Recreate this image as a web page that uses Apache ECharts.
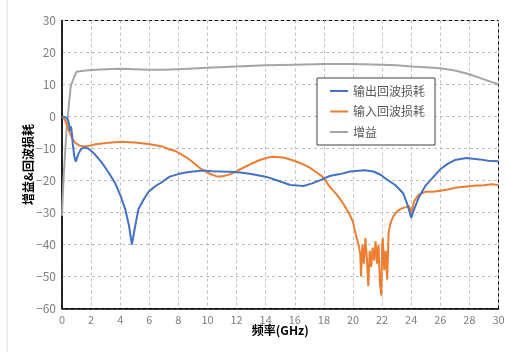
<!DOCTYPE html>
<html>
<head>
<meta charset="utf-8">
<script src="https://cdn.jsdelivr.net/npm/echarts@6/dist/echarts.min.js"></script>
<style>
  html, body { margin: 0; padding: 0; background: #fff; }
  #chart { width: 510px; height: 352px; }
</style>
</head>
<body>
<div id="chart"></div>
<script>
// series names
const names = ['输出回波损耗', '输入回波损耗', '增益']

// 输出回波损耗 (blue)
const outFreq = [0, 0.3, 0.45, 0.55, 0.6, 0.65, 0.75, 0.85, 0.95, 1.1, 1.3, 1.5, 1.8, 2.2, 2.75, 3.2, 3.65, 4.0, 4.35, 4.6, 4.8, 5.0, 5.25, 5.6, 5.95, 6.4, 6.9, 7.4, 8.0, 8.5, 9, 9.7, 10.3, 10.9, 11.5, 12.25, 13, 14, 14.8, 15.7, 16.2, 16.6, 17.2, 17.8, 18.4, 19.1, 19.8, 20.8, 21.4, 21.9, 22.3, 22.9, 23.45, 23.7, 23.9, 24.0, 24.2, 24.5, 25, 25.5, 26, 26.5, 27, 27.8, 28.7, 29.3, 30]
const outVal = [0, -0.3, -1.5, -4.5, -3, -4, -9, -12.5, -14.1, -12, -10.2, -9.7, -10, -11.5, -14.5, -17.5, -20.8, -24.5, -29, -34, -40, -35, -29, -26, -23.5, -21.8, -20.4, -18.8, -18, -17.5, -17.2, -16.9, -17.1, -17.2, -17.3, -17.5, -18, -18.8, -20, -21.4, -21.6, -21.7, -20.9, -19.8, -18.6, -18, -17.2, -16.8, -17.2, -18.2, -19.6, -21.4, -24, -27, -30, -31.7, -29, -25.5, -21.5, -19, -16.5, -14.8, -13.6, -13, -13.4, -13.8, -14]

// 输入回波损耗 (orange)
const inFreq = [0, 0.2, 0.45, 0.7, 0.9, 1.2, 1.5, 1.9, 2.3, 3.2, 4.1, 5, 5.95, 6.9, 7.4, 7.8, 8.5, 9, 9.5, 10.1, 10.7, 11.1, 11.6, 12.1, 12.6, 13.1, 13.6, 14.1, 14.45, 15.2, 15.8, 16.4, 17, 17.4, 17.9, 18.4, 18.9, 19.3, 19.7, 20.0, 20.2, 20.4, 20.5, 20.55, 20.65, 20.75, 20.85, 20.95, 21.05, 21.15, 21.25, 21.35, 21.45, 21.55, 21.65, 21.75, 21.85, 21.95, 22.0, 22.05, 22.15, 22.25, 22.35, 22.45, 22.6, 22.8, 23.0, 23.3, 23.6, 23.85, 24.0, 24.2, 24.5, 25, 25.5, 26, 26.5, 27, 27.5, 28, 28.5, 29, 29.5, 30]
const inVal = [0, -1, -4.2, -6.8, -8.2, -9.1, -9.4, -9.1, -8.7, -8.2, -7.9, -8.1, -8.6, -9.4, -10.3, -10.8, -12.6, -14.3, -16.2, -17.8, -18.8, -18.6, -18, -16.8, -15.7, -14.6, -13.6, -12.9, -12.6, -12.8, -13.6, -14.6, -15.9, -17.2, -18.8, -21.9, -24.5, -27, -30, -33, -37, -40.5, -43, -50, -40, -46, -38, -44, -53, -42, -47, -41, -45, -39, -46, -40, -52, -56, -40, -38, -48, -42, -51, -36, -33, -31, -29.8, -28.8, -28.4, -28, -30.2, -26.5, -24.5, -23.5, -23.5, -23.2, -22.8, -22.3, -22, -21.8, -21.6, -21.5, -21.2, -21.4]

// 增益 (gray)
const gainFreq = [0, 0.1, 0.3, 0.5, 0.55, 0.6, 0.7, 0.85, 1.0, 1.5, 2, 3, 4, 5, 6, 7, 8, 10, 12, 14, 16, 18, 20, 22, 23, 24, 25, 26, 27, 28, 29, 30]
const gainVal = [-31, -20, -5, 5, 7, 9.5, 10, 12.5, 14, 14.3, 14.5, 14.8, 14.9, 14.8, 14.6, 14.6, 14.8, 15.2, 15.6, 16, 16.2, 16.4, 16.4, 16.2, 16, 15.6, 15.4, 15.1, 14.4, 13.2, 11.6, 10]

// axis ranges
const xTicks = { min: 0, max: 30, step: 2 }
const yTicks = { min: -60, max: 30, step: 10 }

const colors = ['#4472C4', '#ED7D31', '#A5A5A5']
const pairs = (xs, ys) => xs.map((x, i) => [x, ys[i]])
const fmt = (v) => (v < 0 ? '\u2212' + Math.abs(v) : String(v))
const font = '"Noto Sans CJK SC", "Noto Sans", sans-serif'

const gridLine = { show: true, lineStyle: { color: '#bfbfbf', type: [3, 3], width: 1 } }

const option = {
  animation: false,
  color: colors,
  textStyle: { fontFamily: font },
  grid: { left: 62, right: 11.5, top: 20.5, bottom: 43.5, show: true, borderColor: '#000', borderWidth: 1 },
  graphic: [
    { type: 'line', shape: { x1: 7, y1: 0, x2: 7, y2: 352 }, style: { stroke: '#d9d9d9', lineWidth: 1 } },
  ],
  legend: {
    orient: 'vertical',
    left: 317,
    top: 78,
    padding: [7, 10, 7, 13],
    itemGap: 8.5,
    itemWidth: 18,
    itemHeight: 2,
    icon: 'rect',
    borderColor: '#404040',
    borderWidth: 1,
    backgroundColor: '#fff',
    textStyle: { color: '#595959', fontSize: 12, fontFamily: font },
    data: names,
  },
  xAxis: {
    type: 'value',
    min: xTicks.min,
    max: xTicks.max,
    interval: xTicks.step,
    name: '频率(GHz)',
    nameLocation: 'middle',
    nameGap: 16,
    nameMoveOverlap: false,
    nameTextStyle: { color: '#000', fontWeight: 'bold', fontSize: 12 },
    axisLine: { onZero: false, lineStyle: { color: '#000', width: 1.5 } },
    axisTick: { show: false },
    axisLabel: { color: '#7f7f7f', fontSize: 11, margin: 6 },
    splitLine: gridLine,
  },
  yAxis: {
    type: 'value',
    min: yTicks.min,
    max: yTicks.max,
    interval: yTicks.step,
    name: '增益&回波损耗',
    nameLocation: 'middle',
    nameGap: 28,
    nameMoveOverlap: false,
    nameTextStyle: { color: '#000', fontWeight: 'bold', fontSize: 12 },
    axisLine: { show: true, onZero: false, lineStyle: { color: '#000', width: 1.5 } },
    axisTick: { show: false },
    axisLabel: { color: '#7f7f7f', fontSize: 12, margin: 6, formatter: fmt },
    splitLine: gridLine,
  },
  series: [
    { name: names[0], type: 'line', showSymbol: false, lineStyle: { width: 2 }, data: pairs(outFreq, outVal), z: 3 },
    { name: names[1], type: 'line', showSymbol: false, lineStyle: { width: 2 }, data: pairs(inFreq, inVal), z: 2 },
    { name: names[2], type: 'line', showSymbol: false, lineStyle: { width: 2 }, data: pairs(gainFreq, gainVal), z: 1 },
  ],
}

const c = echarts.init(document.getElementById('chart'))
c.setOption(option)
</script>
</body>
</html>
